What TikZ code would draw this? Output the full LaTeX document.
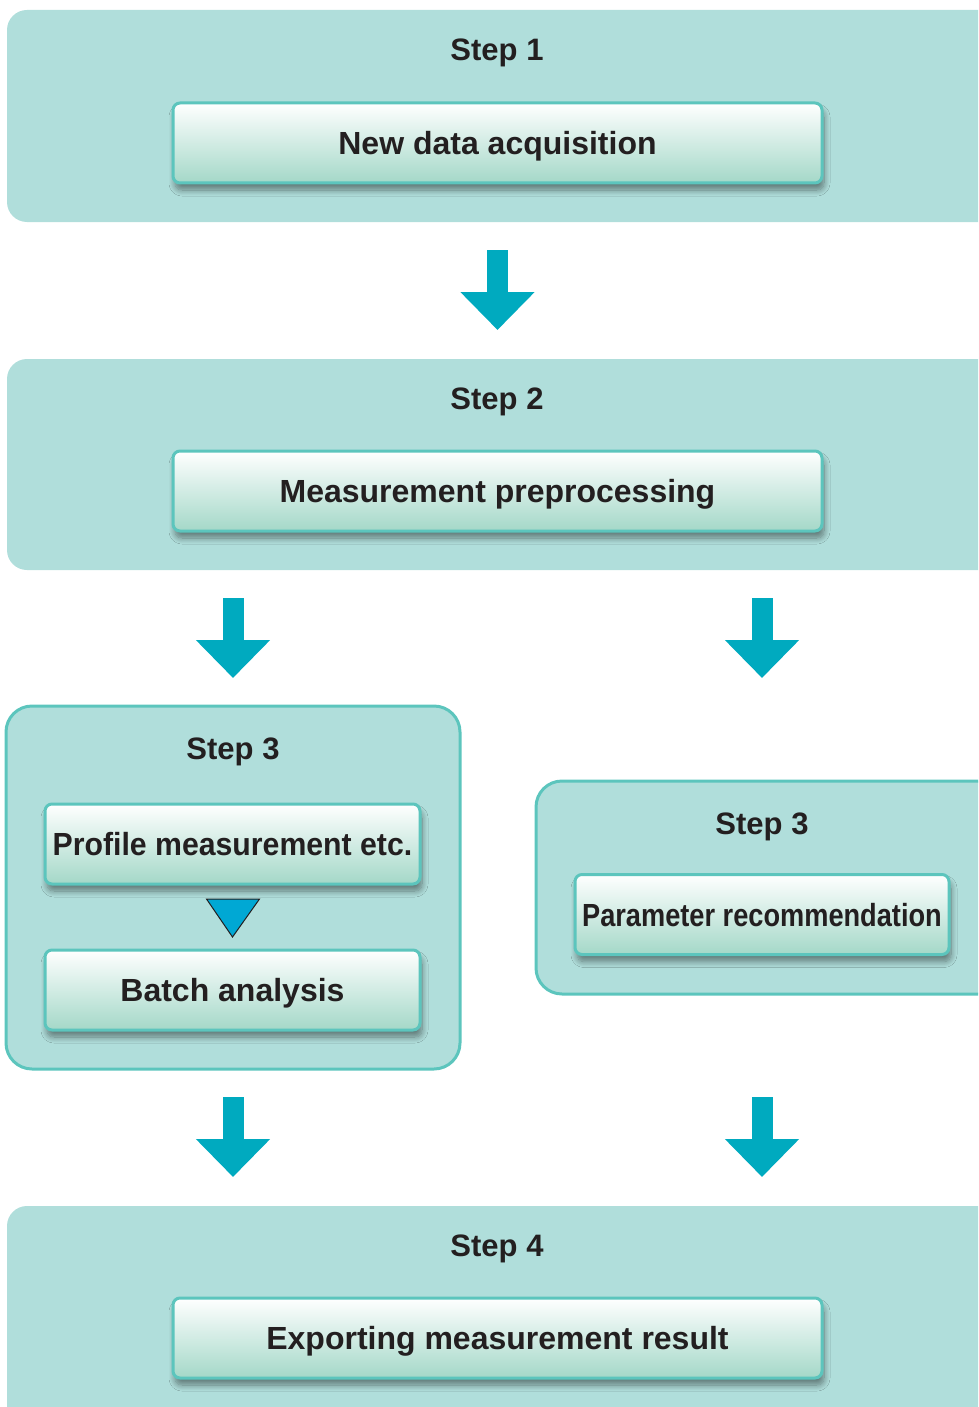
\documentclass[tikz,border=0pt]{standalone}
\usepackage{fontspec}
\setmainfont{Liberation Sans}
\newfontfamily\narrowfont[FakeStretch=0.85]{Liberation Sans}
\newfontfamily\slimfont[FakeStretch=0.945]{Liberation Sans}
\usetikzlibrary{arrows.meta,shadows.blur,calc}
\definecolor{panelfill}{HTML}{B0DEDB}
\definecolor{panelline}{HTML}{5CC5BD}
\definecolor{boxgreen}{HTML}{A4D8C8}
\definecolor{arrowcol}{HTML}{00AABF}
\definecolor{tricol}{HTML}{00A8D4}
\definecolor{textcol}{HTML}{231F20}

\begin{document}
\begin{tikzpicture}[x=1pt,y=-1pt]
	\tikzset{panel/.style = {shape=rectangle, fill=panelfill, rounded corners=20pt,
			inner sep=0pt, outer sep=0pt, anchor=north west}}
	\tikzset{framed/.style = {panel, draw=panelline, line width=3pt, rounded corners=26pt}}
	\tikzset{title/.style = {font=\fontsize{31}{36}\selectfont\bfseries, text=textcol,
			text height=22pt, text depth=0pt}}
	\tikzset{box/.style = {shape=rectangle, draw=panelline, line width=3pt, rounded corners=7pt,
			top color=white, middle color=boxgreen!30!white, bottom color=boxgreen,
			minimum height=80pt, inner sep=0pt, outer sep=0pt,
			text height=23pt, text depth=0pt,
			font=\fontsize{32}{36}\selectfont\bfseries, text=textcol,
			blur shadow={shadow xshift=2pt, shadow yshift=-7pt, shadow blur steps=10,
				shadow blur radius=6pt, shadow opacity=45}}}
	\tikzset{bigarrow/.style = {draw=arrowcol, line width=21pt,
			-{Triangle[length=38pt,width=72pt]}}}
	\tikzset{tri/.style = {fill=tricol, draw=textcol, line width=1pt, line join=miter}}
	\useasboundingbox (0,0) rectangle (978,1407);
	\clip (0,0) rectangle (978,1407);
    % panels
    \node[panel, minimum width=1010pt, minimum height=212pt] (s1) at (7,10) {};
    \node[panel, minimum width=1010pt, minimum height=211pt] (s2) at (7,359) {};
    \node[framed, minimum width=454pt, minimum height=363pt] (s3a) at (6,706) {};
    \node[framed, minimum width=480pt, minimum height=213pt] (s3b) at (536,781) {};
    \node[panel, minimum width=1010pt, minimum height=260pt] (s4) at (7,1206) {};
    % titles
    \node[title] (t1) at (497,50) {Step 1};
    \node[title] (t2) at (497,398) {Step 2};
    \node[title] (t3a) at (233,748) {Step 3};
    \node[title] (t3b) at (762,823) {Step 3};
    \node[title] (t4) at (497,1245) {Step 4};
    % boxes
    \node[box, minimum width=649pt] (p1) at (497.5,143) {New data acquisition};
    \node[box, minimum width=649pt] (p2) at (497.5,491) {Measurement preprocessing};
    \node[box, minimum width=375pt, font=\fontsize{32}{36}\slimfont\bfseries] (p3a) at (232.5,844) {Profile measurement etc.};
    \node[box, minimum width=375pt] (p3c) at (232.5,990) {Batch analysis};
    \node[box, minimum width=374pt, font=\fontsize{32}{36}\narrowfont\bfseries] (p3b) at (762,914.5) {Parameter recommendation};
    \node[box, minimum width=649pt] (p4) at (497.5,1338) {Exporting measurement result};
    % arrows
    \draw[bigarrow] ($(s1.south -| p1.south)+(0,28)$) -- ($(s2.north -| p2.north)+(0,-29)$);
    \draw[bigarrow] ($(s2.south -| s3a.north)+(0,28)$) -- ($(s3a.north)+(0,-28)$);
    \draw[bigarrow] ($(s2.south -| p3b.north)+(0,28)$) -- ($(s2.south -| p3b.north)+(0,108)$);
    \draw[bigarrow] ($(s3a.south)+(0,28)$) -- ($(s4.north -| s3a.south)+(0,-29)$);
    \draw[bigarrow] ($(s3a.south -| p3b.south)+(0,28)$) -- ($(s4.north -| p3b.south)+(0,-29)$);
    \draw[tri] ($(p3a.south)+(-26,15)$) -- ++(53,0) -- ($(p3a.south)+(0,53)$) -- cycle;
\end{tikzpicture}
\end{document}
